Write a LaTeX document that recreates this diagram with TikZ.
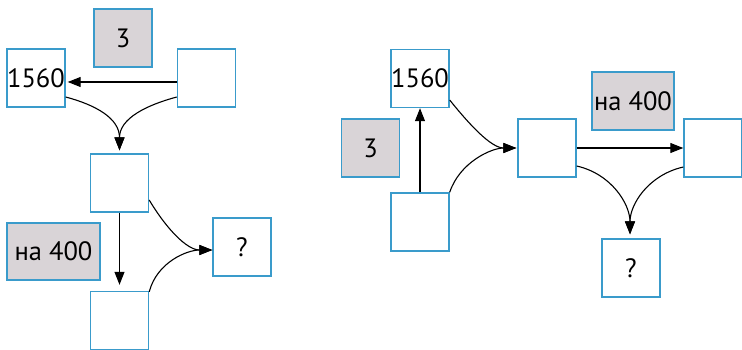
\documentclass[tikz,border=0pt]{standalone}
\usepackage{fontspec}
\setmainfont{PT Sans}
\usetikzlibrary{arrows.meta}
\definecolor{boxblue}{HTML}{3A9BCB}
\definecolor{boxgray}{HTML}{D9D4D7}
\tikzset{
  cell/.style={draw=boxblue, line width=1.4pt, fill=white, minimum width=58pt, minimum height=58pt,
    inner sep=0pt, font=\fontsize{26.5}{30}\selectfont},
  hint/.style={cell, fill=boxgray},
  arr/.style={line width=1.1pt, -{Triangle[length=13pt,width=10pt]}},
}
\begin{document}
\begin{tikzpicture}[x=1pt,y=-1pt]
\useasboundingbox (0,0) rectangle (742,350);
% left scheme
\node[hint] (g3L) at (123,38) {3};
\node[cell] (a1) at (36,78) {1560};
\node[cell] (a2) at (206.5,78) {};
\node[cell] (a3) at (119.5,183) {};
\node[cell] (a4) at (119.5,320.5) {};
\node[hint, minimum width=93pt, minimum height=57pt] (gNaL) at (53.5,251.5) {на 400};
\node[cell] (aq) at (242,247) {?};
\draw[arr] ([yshift=-4pt]a2.west) -- ([yshift=-4pt,xshift=2pt]a1.east);
\draw[arr] ([yshift=-19pt]a1.east) .. controls +(30,8) and +(0,-32) .. ([yshift=3pt]a3.north);
\draw[arr] ([yshift=-19pt]a2.west) .. controls +(-30,8) and +(0,-32) .. ([yshift=3pt]a3.north);
\draw[arr] (a3.south) -- ([yshift=6pt]a4.north);
\draw[arr] ([yshift=-17pt]a3.east) .. controls +(18,30) and +(-25,0) .. ([yshift=-3pt]aq.west);
\draw[arr] ([yshift=-1pt]a4.north east) .. controls +(8,-30) and +(-25,0) .. ([yshift=-3pt]aq.west);
% right scheme
\node[cell] (b1) at (420,78.5) {1560};
\node[hint] (g3R) at (370.5,148) {3};
\node[cell] (b2) at (420,222) {};
\node[cell] (b3) at (547,148) {};
\node[cell] (b4) at (713,148) {};
\node[hint, minimum width=82pt] (gNaR) at (633,101) {на 400};
\node[cell] (bq) at (631,268) {?};
\draw[arr] (b2.north) -- (b1.south);
\draw[arr] ([yshift=-21.5pt]b1.east) .. controls +(20,25) and +(-25,0) .. ([xshift=-1pt]b3.west);
\draw[arr] (b2.north east) .. controls +(10,-30) and +(-25,0) .. ([xshift=-1pt]b3.west);
\draw[arr] (b3.east) -- (b4.west);
\draw[arr] ([yshift=-18pt]b3.east) .. controls +(35,8) and +(0,-30) .. ([yshift=4pt,xshift=-1pt]bq.north);
\draw[arr] ([yshift=-19pt]b4.west) .. controls +(-35,8) and +(0,-30) .. ([yshift=4pt,xshift=-1pt]bq.north);
\end{tikzpicture}
\end{document}
